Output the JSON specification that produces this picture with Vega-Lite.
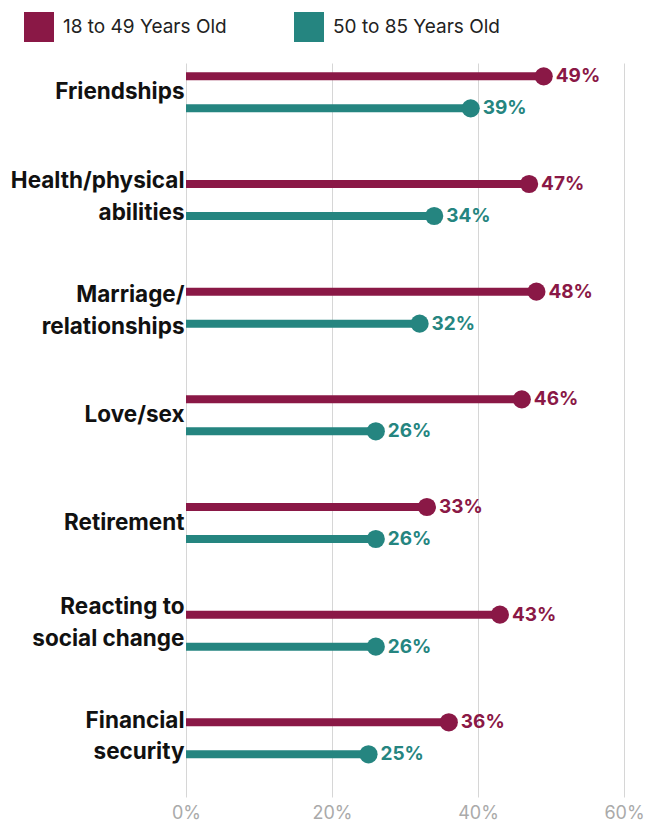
{
  "$schema": "https://vega.github.io/schema/vega-lite/v6.json",
  "autosize": {"type": "none"},
  "padding": {"left": 186, "top": 63, "right": 26, "bottom": 26},
  "width": 438,
  "height": 734,
  "background": "white",
  "config": {"view": {"stroke": null}},
  "data": {
    "values": [
      {"topic": "Friendships", "age": "18 to 49 Years Old", "share": 0.49},
      {"topic": "Friendships", "age": "50 to 85 Years Old", "share": 0.39},
      {"topic": "Health/physical abilities", "age": "18 to 49 Years Old", "share": 0.47},
      {"topic": "Health/physical abilities", "age": "50 to 85 Years Old", "share": 0.34},
      {"topic": "Marriage/relationships", "age": "18 to 49 Years Old", "share": 0.48},
      {"topic": "Marriage/relationships", "age": "50 to 85 Years Old", "share": 0.32},
      {"topic": "Love/sex", "age": "18 to 49 Years Old", "share": 0.46},
      {"topic": "Love/sex", "age": "50 to 85 Years Old", "share": 0.26},
      {"topic": "Retirement", "age": "18 to 49 Years Old", "share": 0.33},
      {"topic": "Retirement", "age": "50 to 85 Years Old", "share": 0.26},
      {"topic": "Reacting to social change", "age": "18 to 49 Years Old", "share": 0.43},
      {"topic": "Reacting to social change", "age": "50 to 85 Years Old", "share": 0.26},
      {"topic": "Financial security", "age": "18 to 49 Years Old", "share": 0.36},
      {"topic": "Financial security", "age": "50 to 85 Years Old", "share": 0.25}
    ]
  },
  "encoding": {
    "y": {
      "field": "topic",
      "type": "nominal",
      "sort": null,
      "title": null,
      "scale": {"paddingInner": 0.5542, "paddingOuter": 0.1858, "align": 0.1325},
      "axis": {
        "domain": false,
        "ticks": false,
        "labelPadding": 2,
        "labelLimit": 400,
        "labelFont": "Inter",
        "labelFontSize": 22.5,
        "labelFontWeight": "bold",
        "labelColor": "#111111",
        "labelLineHeight": 31.5,
        "labelOffset": {
          "condition": [
            {"test": "datum.value == 'Health/physical abilities'", "value": -18.5},
            {"test": "datum.value == 'Marriage/relationships'", "value": -12.5},
            {"test": "datum.value == 'Reacting to social change'", "value": -23.5},
            {"test": "datum.value == 'Financial security'", "value": -17.5}
          ],
          "value": 0
        },
        "labelExpr": "datum.label == 'Health/physical abilities' ? ['Health/physical', 'abilities'] : datum.label == 'Marriage/relationships' ? ['Marriage/', 'relationships'] : datum.label == 'Reacting to social change' ? ['Reacting to', 'social change'] : datum.label == 'Financial security' ? ['Financial', 'security'] : datum.label"
      }
    },
    "yOffset": {
      "field": "age",
      "type": "nominal",
      "sort": null,
      "scale": {"domain": ["18 to 49 Years Old", "50 to 85 Years Old"], "paddingInner": 0.5, "paddingOuter": 0}
    },
    "x": {
      "field": "share",
      "type": "quantitative",
      "title": null,
      "scale": {"domain": [0, 0.6], "nice": false},
      "axis": {
        "values": [0, 0.2, 0.4, 0.6],
        "format": ".0%",
        "domain": false,
        "ticks": false,
        "grid": true,
        "gridColor": "#d6d6d6",
        "gridWidth": 1,
        "labelFlush": false,
        "labelPadding": 7,
        "labelFont": "Inter",
        "labelFontSize": 18,
        "labelColor": "#aaaaaa"
      }
    },
    "color": {
      "field": "age",
      "type": "nominal",
      "scale": {"domain": ["18 to 49 Years Old", "50 to 85 Years Old"], "range": ["#8a1846", "#258580"]},
      "legend": {
        "orient": "none",
        "legendX": -162,
        "legendY": -51,
        "direction": "horizontal",
        "title": null,
        "symbolType": "square",
        "symbolSize": 900,
        "symbolStrokeWidth": 0,
        "symbolOpacity": 1,
        "labelFont": "Inter",
        "labelFontSize": 19,
        "labelColor": "#222222",
        "labelOffset": 9,
        "labelLimit": 300,
        "columnPadding": 67
      }
    }
  },
  "layer": [
    {
      "mark": {"type": "rule", "strokeWidth": 8, "strokeCap": "butt"},
      "encoding": {"x2": {"datum": 0}}
    },
    {
      "mark": {"type": "circle", "size": 330, "opacity": 1}
    },
    {
      "mark": {"type": "text", "align": "left", "baseline": "middle", "dx": 12, "font": "Inter", "fontSize": 19, "fontWeight": "bold"},
      "encoding": {"text": {"field": "share", "type": "quantitative", "format": ".0%"}}
    }
  ]
}
